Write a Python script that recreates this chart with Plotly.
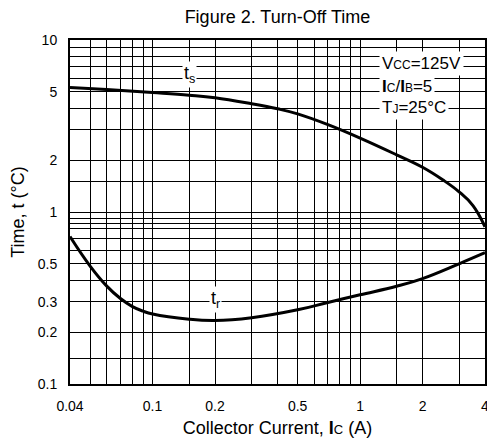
import math
import plotly.graph_objects as go

# Data
current_ts = [0.04, 0.06, 0.1, 0.15, 0.2, 0.3, 0.4, 0.5, 0.7, 1.0, 1.5, 2.0, 2.5, 3.0, 3.5, 4.0]
time_ts = [5.30, 5.15, 4.95, 4.78, 4.62, 4.26, 3.98, 3.72, 3.22, 2.69, 2.15, 1.82, 1.54, 1.31, 1.09, 0.82]

current_tr = [0.04, 0.05, 0.06, 0.07, 0.08, 0.09, 0.1, 0.15, 0.2, 0.3, 0.5, 0.7, 1.0, 1.5, 2.0, 3.0, 4.0]
time_tr = [0.72, 0.485, 0.372, 0.314, 0.282, 0.265, 0.255, 0.238, 0.234, 0.243, 0.27, 0.298, 0.33, 0.37, 0.41, 0.50, 0.58]

x_ticks = [0.04, 0.1, 0.2, 0.5, 1, 2, 4]
x_tick_text = ["0.04", "0.1", "0.2", "0.5", "1", "2", "4"]
x_grid = [0.05, 0.06, 0.07, 0.08, 0.09, 0.15, 0.3, 0.4, 0.6, 0.7, 0.8, 0.9, 1.5, 3]

y_ticks = [0.1, 0.2, 0.3, 0.5, 1, 2, 5, 10]
y_tick_text = ["0.1", "0.2", "0.3", "0.5", "1", "2", "5", "10"]
y_grid = [0.14, 0.4, 0.6, 0.7, 0.8, 0.86, 0.92, 1.5, 3, 4, 6, 7, 8, 9]

label_ts = ("t<sub>s</sub>", 0.15, 6.34)
label_tr = ("t<sub>r</sub>", 0.2, 0.308)

cond_lines = [
    "V<span style='font-size:12px'>CC</span>=125V",
    "<b>I</b><span style='font-size:12px'>C</span>/<b>I</b><span style='font-size:12px'>B</span>=5",
    "T<span style='font-size:12px'>J</span>=25°C",
]

FONT = "Liberation Sans, Arial, sans-serif"
# page body has an 8px margin, so the figure is sized/offset to compensate
W, H = 487, 437

fig = go.Figure()
for xs, ys in ((current_ts, time_ts), (current_tr, time_tr)):
    fig.add_trace(go.Scatter(x=xs, y=ys, mode="lines",
                             line=dict(color="black", width=3, shape="spline", smoothing=1.2),
                             showlegend=False, hoverinfo="skip"))

fig.update_layout(
    width=W, height=H,
    margin=dict(l=62, r=6, t=32, b=61),
    paper_bgcolor="white", plot_bgcolor="white",
    font=dict(family=FONT, color="black", size=14),
    title=dict(text="Figure 2. Turn-Off Time", x=0.5, xref="paper", xanchor="center",
               y=1 - 9 / H, yref="container", yanchor="middle",
               font=dict(size=18, family=FONT, color="black")),
)

common = dict(showgrid=True, gridcolor="black", gridwidth=1,
              showline=True, linecolor="black", linewidth=2, mirror=True,
              ticks="", ticklabelstandoff=8, zeroline=False, tickfont=dict(size=14))

fig.update_xaxes(
    type="log", range=[math.log10(0.04), math.log10(4)],
    tickmode="array", tickvals=x_ticks, ticktext=x_tick_text,
    minor=dict(tickmode="array", tickvals=x_grid, showgrid=True, gridcolor="black", gridwidth=1, ticks=""),
    title=dict(text="Collector Current, <b>I</b><span style='font-size:13px'>C</span> (A)",
               font=dict(size=18), standoff=9),
    **common,
)
fig.update_yaxes(
    type="log", range=[-1, 1],
    tickmode="array", tickvals=y_ticks, ticktext=y_tick_text,
    minor=dict(tickmode="array", tickvals=y_grid, showgrid=True, gridcolor="black", gridwidth=1, ticks=""),
    title=dict(text="Time, t (°C)", font=dict(size=18), standoff=10),
    **common,
)

# Curve labels (log axes: annotation positions are in log10 units)
for txt, lx, ly in (label_ts, label_tr):
    fig.add_annotation(x=math.log10(lx), y=math.log10(ly), xref="x", yref="y",
                       text=txt, showarrow=False, bgcolor="white",
                       font=dict(size=18), borderpad=1)

# Conditions box
cond_y = [0.933, 0.866, 0.805]
for txt, yy in zip(cond_lines, cond_y):
    fig.add_annotation(x=0.745, y=yy, xref="paper", yref="paper", xanchor="left", yanchor="middle",
                       text=txt, showarrow=False, bgcolor="white", font=dict(size=17), borderpad=2)

fig.write_html("out.html")
